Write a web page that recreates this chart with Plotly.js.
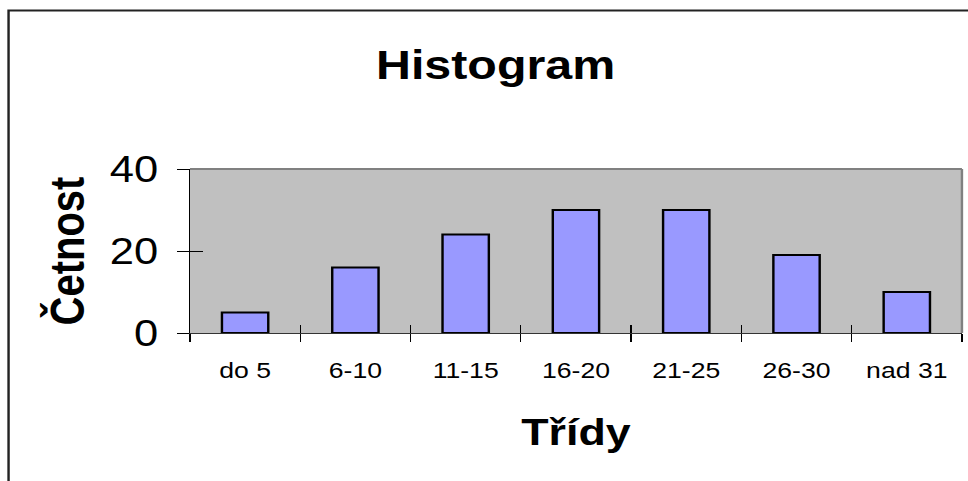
<!DOCTYPE html>
<html>
<head>
<meta charset="utf-8">
<script src="https://cdn.plot.ly/plotly-3.0.1.min.js"></script>
<style>
  html, body { margin: 0; padding: 0; background: #ffffff; overflow: hidden; }
  #chart { width: 800px; height: 481px; transform: scaleX(1.21); transform-origin: 0 0; }
</style>
</head>
<body>
<div id="chart"></div>
<script>
const categories = ["do 5", "6-10", "11-15", "16-20", "21-25", "26-30", "nad 31"];
const counts = [5, 16, 24, 30, 30, 19, 10];
const yTickValues = [0, 20, 40];
const yTickLabels = ["0", "20", "40"];

const FONT = "Liberation Sans, Arial, sans-serif";

const trace = {
  type: "bar",
  x: categories,
  y: counts,
  marker: { color: "#9999FF", line: { color: "#000000", width: 2 } },
  hoverinfo: "x+y",
  showlegend: false
};

const layout = {
  width: 800,
  height: 481,
  margin: { l: 157, r: 5, t: 169, b: 148 },
  paper_bgcolor: "#ffffff",
  plot_bgcolor: "#C0C0C0",
  bargap: 0.58,
  showlegend: false,
  font: { family: FONT, color: "#000000" },
  title: {
    text: "<b>Histogram</b>",
    font: { family: FONT, size: 40, color: "#000000" },
    x: 0.512, xanchor: "center",
    y: 0.865, yanchor: "middle"
  },
  xaxis: {
    type: "category",
    tickson: "boundaries",
    ticks: "outside",
    ticklen: 8,
    tickwidth: 1,
    tickcolor: "#000000",
    showline: true,
    linecolor: "#333333",
    linewidth: 1,
    showgrid: false,
    zeroline: false,
    ticklabelstandoff: 18,
    tickfont: { family: FONT, size: 22, color: "#000000" },
    title: {
      text: "<b>Třídy</b>",
      font: { family: FONT, size: 37, color: "#000000" },
      standoff: 36
    }
  },
  xaxis2: {
    type: "category",
    overlaying: "x",
    matches: "x",
    tickson: "boundaries",
    ticks: "inside",
    ticklen: 8,
    tickwidth: 1,
    tickcolor: "#000000",
    showticklabels: false,
    showline: false,
    showgrid: false,
    zeroline: false
  },
  yaxis: {
    range: [0, 40],
    tickvals: yTickValues,
    ticktext: yTickLabels,
    ticks: "outside",
    ticklen: 10,
    tickwidth: 1,
    tickcolor: "#000000",
    showline: true,
    linecolor: "#000000",
    linewidth: 1,
    showgrid: false,
    zeroline: false,
    ticklabelstandoff: 8,
    tickfont: { family: FONT, size: 36, color: "#000000" },
    title: {
      text: "<b>Četnost</b>",
      font: { family: FONT, size: 40, color: "#000000" },
      standoff: 8
    }
  },
  yaxis2: {
    range: [0, 40],
    overlaying: "y",
    tickvals: yTickValues,
    ticks: "inside",
    ticklen: 11,
    tickwidth: 1,
    tickcolor: "#000000",
    showticklabels: false,
    showline: false,
    showgrid: false,
    zeroline: false
  },
  shapes: [
    {
      type: "line", xref: "paper", yref: "paper",
      x0: 0, x1: 1, y0: 1, y1: 1,
      line: { color: "#808080", width: 2 }, layer: "below"
    },
    {
      type: "line", xref: "paper", yref: "paper",
      x0: 1, x1: 1, y0: 0, y1: 1,
      line: { color: "#808080", width: 2 }, layer: "below"
    },
    {
      type: "rect", xref: "paper", yref: "paper",
      x0: -0.235, x1: 1.2, y0: -1.2, y1: 1.966,
      line: { color: "#222222", width: 2 }, fillcolor: "rgba(0,0,0,0)"
    }
  ]
};

const traces = [
  trace,
  { type: "bar", x: categories, y: counts.map(() => null), xaxis: "x2", yaxis: "y2",
    hoverinfo: "skip", showlegend: false }
];

Plotly.newPlot("chart", traces, layout, { displayModeBar: false, staticPlot: true });
</script>
</body>
</html>
